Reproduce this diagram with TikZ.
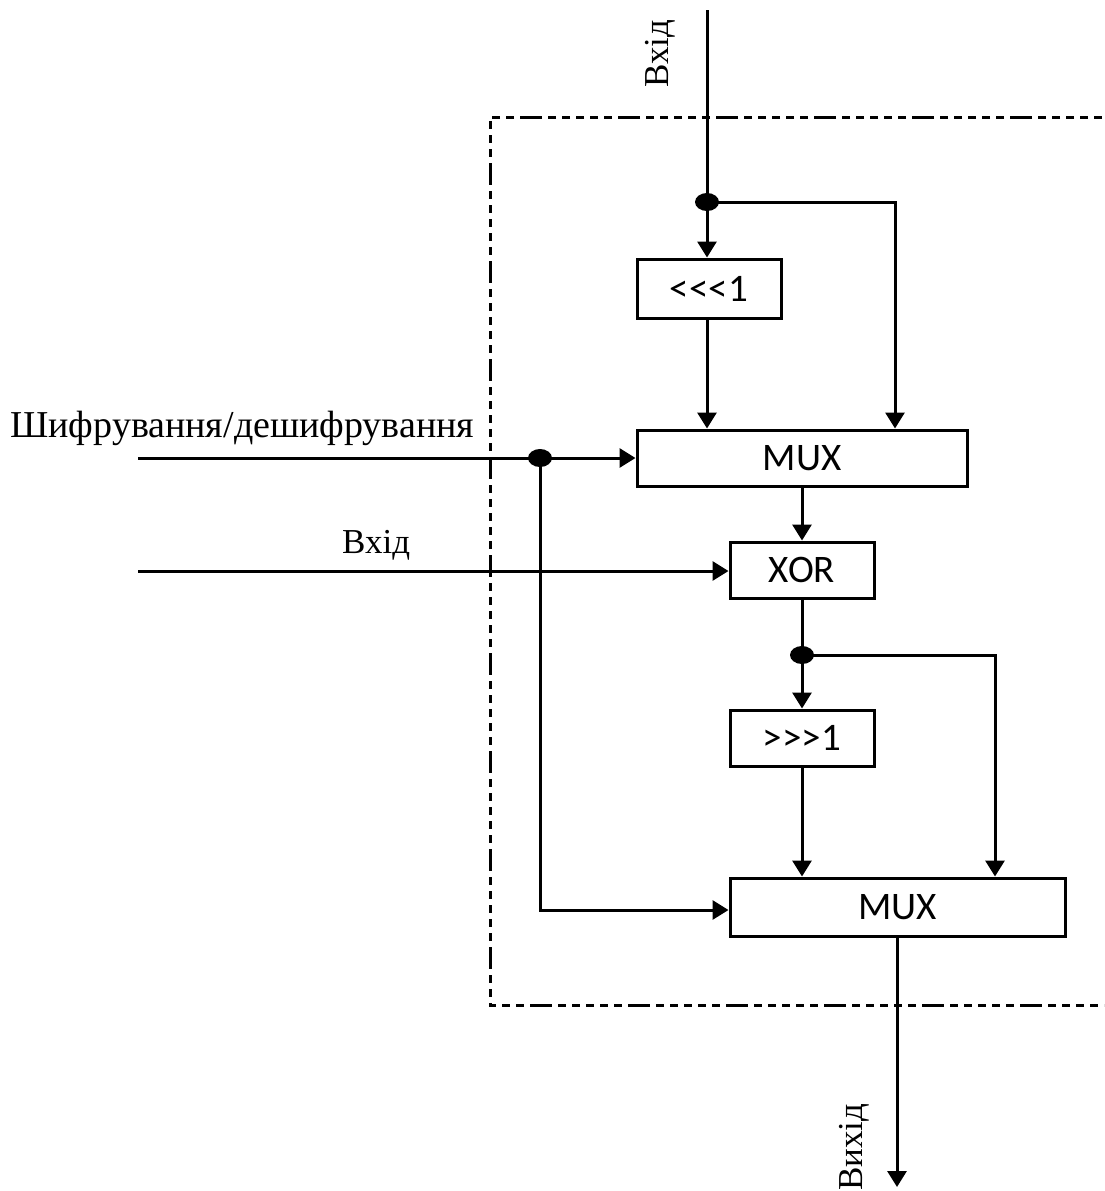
\documentclass[tikz,border=0pt]{standalone}
\usepackage{fontspec}
\setmainfont{Liberation Serif}
\newfontfamily\boxfont{Carlito}
\usetikzlibrary{arrows.meta,shapes.geometric}
\begin{document}
\begin{tikzpicture}[x=1pt,y=-1pt,
  blk/.style={draw,line width=3pt,inner sep=0pt,font=\boxfont\fontsize{39}{44}\selectfont},
  wire/.style={line width=3pt},
  arr/.style={wire,-{Triangle[width=19pt,length=16pt]}},
  jdot/.style={ellipse,fill=black,inner sep=0pt,minimum width=24pt,minimum height=18pt},
  lbl/.style={font=\fontsize{35}{40}\selectfont,inner sep=0pt},
  frame/.style={line width=3pt,dash pattern=on 22pt off 6pt on 8pt off 6pt on 8pt off 6pt on 8pt off 6pt on 8pt off 6pt on 8pt off 6pt}]
\useasboundingbox (0,0) rectangle (1104,1191);
% dashed frame (right side runs off the picture)
\begin{scope}
\clip (0,0) rectangle (1104,1191);
\draw[frame] (1130,117) -- (490,117) -- (490,1005) -- (1130,1005);
\end{scope}
% blocks
\node[blk,minimum width=144pt,minimum height=59pt] (rot1) at (709,288.5) {<<<1};
\node[blk,minimum width=330pt,minimum height=56pt] (mux1) at (802,458) {MUX};
\node[blk,minimum width=144pt,minimum height=56pt] (xor) at (802,570) {XOR};
\node[blk,minimum width=144pt,minimum height=56pt] (rot2) at (802,738) {>>>1};
\node[blk,minimum width=335pt,minimum height=58pt] (mux2) at (897.5,907) {MUX};
% junctions and coordinates
\node[jdot] (j1) at (707,202) {};
\node[jdot] (j2) at (540,458) {};
\node[jdot] (j3) at (802,655) {};
\coordinate (in1) at (707,10);
\coordinate (encin) at (138,458);
\coordinate (in2) at (138,571);
\coordinate (out) at (897,1187);
\coordinate (c1) at (895,202);
\coordinate (c2) at (995,655);
\coordinate (c3) at (540,910);
% wires
\draw[wire] (in1) -- (j1.center);
\draw[arr] (j1.center) -- (rot1.north -| j1);
\draw[wire,line join=miter] (j1.center) -- (c1) -- ++(0,100);
\draw[arr] (c1) -- (mux1.north -| c1);
\draw[arr] (rot1.south -| j1) -- (mux1.north -| j1);
\draw[arr] (encin) -- (mux1.west);
\draw[wire,line join=miter] (j2.center) -- (c3) -- ++(50,0);
\draw[arr] (c3) -- (mux2.west |- c3);
\draw[arr] (in2) -- (xor.west |- in2);
\draw[arr] (mux1.south -| xor) -- (xor.north);
\draw[wire] (xor.south) -- (j3.center);
\draw[arr] (j3.center) -- (rot2.north);
\draw[wire,line join=miter] (j3.center) -- (c2) -- ++(0,100);
\draw[arr] (c2) -- (mux2.north -| c2);
\draw[arr] (rot2.south) -- (mux2.north -| rot2);
\draw[arr] (mux2.south -| out) -- (out);
% labels
\node[lbl,font=\fontsize{38}{42}\selectfont,anchor=base west] (lenc) at (10,437) {Шифрування/дешифрування};
\node[lbl,anchor=base west] (lin2) at (342,553) {Вхід};
\node[lbl,anchor=base west,rotate=90] (lin1) at (668,88) {Вхід};
\node[lbl,anchor=base west,rotate=90] (lout) at (862,1191) {Вихід};
\end{tikzpicture}
\end{document}
